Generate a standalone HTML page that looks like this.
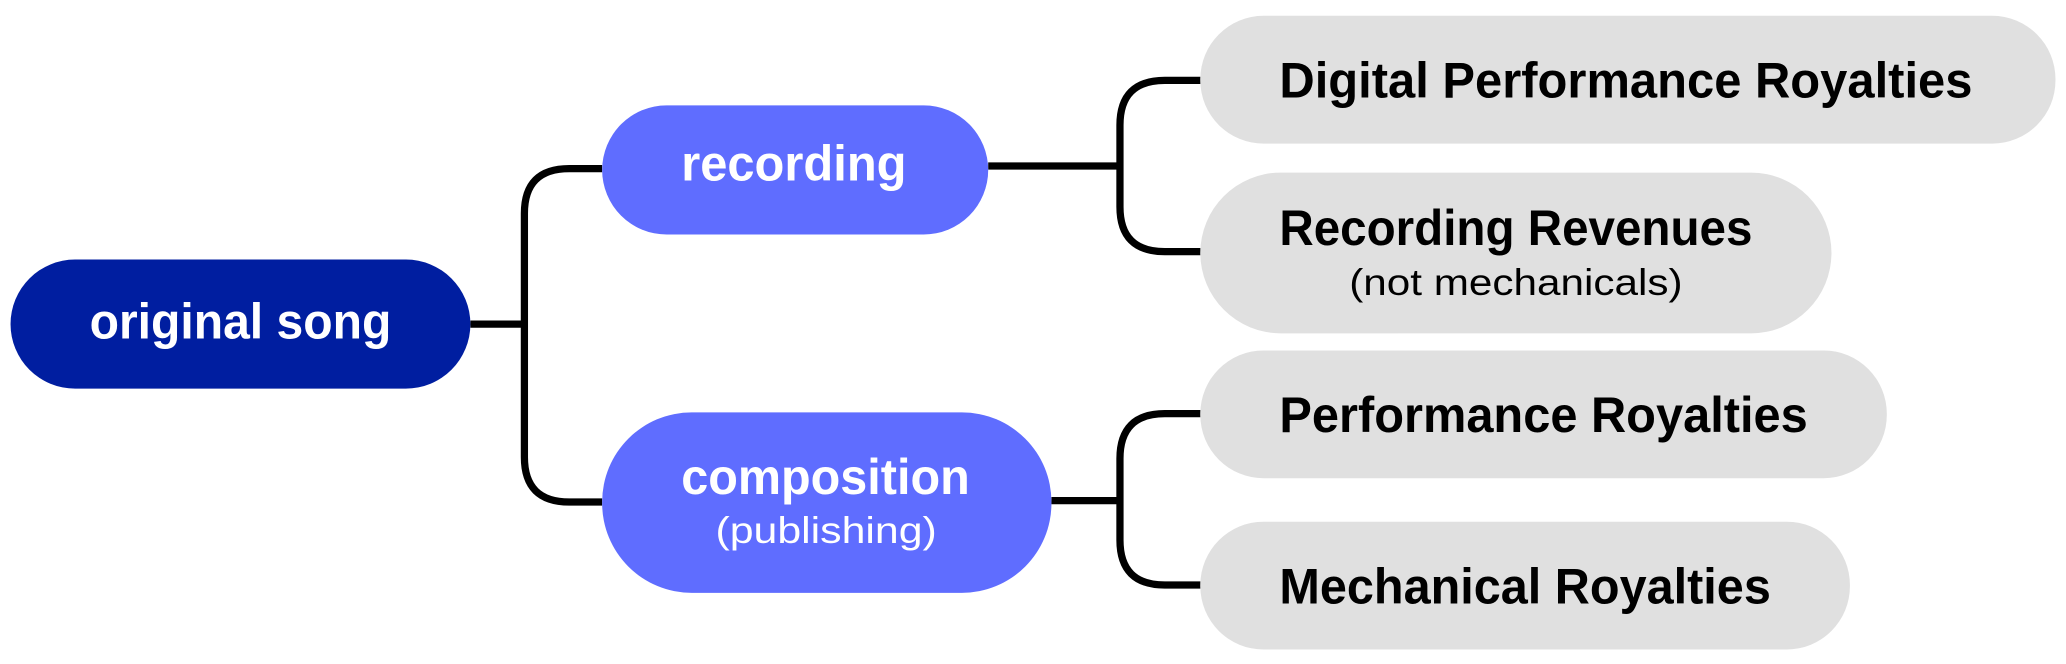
<!DOCTYPE html>
<html><head><meta charset="utf-8"><style>
html,body{margin:0;padding:0;background:#fff;}
svg{display:block;}
text{font-family:"Liberation Sans",sans-serif;}
</style></head><body>
<svg width="2066" height="664" viewBox="0 0 1568 504" preserveAspectRatio="none" xmlns="http://www.w3.org/2000/svg">
<g fill="none" stroke="#000" stroke-width="5.5">
<path d="M357 246 H398"/>
<path d="M457 128 H432 Q398 128 398 162 V347 Q398 381 432 381 H457"/>
<path d="M750 126 H850"/>
<path d="M911 61 H884 Q850 61 850 95 V157 Q850 191 884 191 H911"/>
<path d="M798 380 H850"/>
<path d="M911 314 H884 Q850 314 850 348 V410 Q850 444 884 444 H911"/>
</g>
<rect x="8" y="197" width="349" height="98" rx="49" fill="#001ea0"/>
<rect x="457" y="80" width="293" height="98" rx="49" fill="#5f6dff"/>
<rect x="457" y="313" width="341" height="137" rx="68" fill="#5f6dff"/>
<rect x="911" y="12" width="649" height="97" rx="48" fill="#e0e0e0"/>
<rect x="911" y="131" width="479" height="122" rx="61" fill="#e0e0e0"/>
<rect x="911" y="266" width="521" height="97" rx="48" fill="#e0e0e0"/>
<rect x="911" y="396" width="493" height="97" rx="48" fill="#e0e0e0"/>
<g font-weight="bold" font-size="38">
<text x="68" y="257" fill="#fff" textLength="229" lengthAdjust="spacingAndGlyphs">original song</text>
<text x="517" y="137" fill="#fff" textLength="171" lengthAdjust="spacingAndGlyphs">recording</text>
<text x="517" y="375" fill="#fff" textLength="219" lengthAdjust="spacingAndGlyphs">composition</text>
<text x="971" y="74" fill="#000" textLength="526" lengthAdjust="spacingAndGlyphs">Digital Performance Royalties</text>
<text x="971" y="186" fill="#000" textLength="359" lengthAdjust="spacingAndGlyphs">Recording Revenues</text>
<text x="971" y="328" fill="#000" textLength="401" lengthAdjust="spacingAndGlyphs">Performance Royalties</text>
<text x="971" y="458" fill="#000" textLength="373" lengthAdjust="spacingAndGlyphs">Mechanical Royalties</text>
</g>
<text x="1024" y="224" font-size="28" fill="#000" textLength="253" lengthAdjust="spacingAndGlyphs">(not mechanicals)</text>
<text x="543" y="412" font-size="28" fill="#fff" textLength="168" lengthAdjust="spacingAndGlyphs">(publishing)</text>
</svg>
</body></html>
